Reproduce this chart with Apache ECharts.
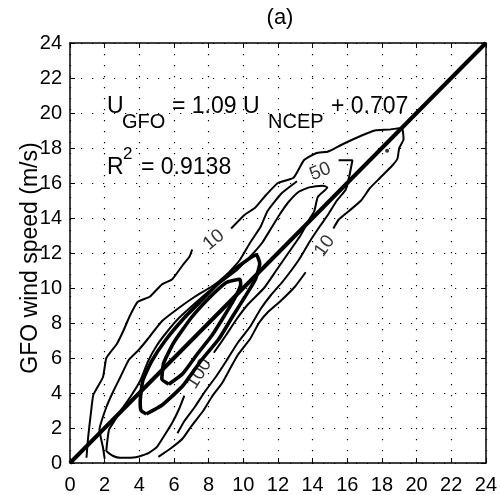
<!DOCTYPE html>
<html>
<head>
<meta charset="utf-8">
<script src="https://cdn.jsdelivr.net/npm/echarts@6/dist/echarts.min.js"></script>
<style>
html,body{margin:0;padding:0;background:#fff;}
#main{width:500px;height:495px;}
</style>
</head>
<body>
<div id="main"></div>
<script>
// contour lines, level 10 (outer)
var c10a = [[0.95,0.3],[1.05,1.5],[1.2,2.8],[1.35,3.9],[1.9,4.9],[2.1,6.0],[2.7,6.8],[3.1,7.6],[3.45,8.4],[3.9,9.2],[4.6,9.5],[5.3,10.2],[5.9,10.5],[6.5,11.3],[6.9,11.8],[7.05,12.2]];
var c10b = [[9.3,13.4],[10.1,14.2],[10.7,14.6],[11.3,15.3],[12.0,16.0],[12.9,16.3],[13.5,17.3],[14.2,17.7],[14.9,17.8],[15.7,18.2],[16.8,18.7],[17.6,19.0],[18.4,19.05],[19.15,19.15],[19.25,18.5],[19.0,18.0],[18.9,17.4],[18.6,17.0],[17.9,16.3],[17.3,15.7],[16.8,15.0],[16.1,14.4],[15.5,13.9],[15.2,13.4]];
var c10c = [[13.6,10.9],[13.0,10.1],[12.2,9.3],[11.4,8.6],[10.9,8.0],[10.4,7.1],[9.7,6.2],[9.3,5.5],[8.8,4.6],[8.2,3.8],[7.7,3.0],[7.0,2.1],[6.5,1.4],[5.9,0.9],[5.1,0.35]];
// level 50
var c50a = [[2.0,0.25],[1.9,0.9],[1.7,1.9],[2.1,3.2],[2.5,4.1],[2.9,4.9],[3.4,5.9],[4.0,6.5],[4.5,7.1],[5.3,8.1],[6.2,8.8],[7.2,9.5],[8.2,10.1],[9.0,10.7],[9.8,11.6],[10.4,12.6],[11.0,13.5],[11.4,14.4],[12.2,15.4],[13.1,16.1]];
var c50b = [[15.5,17.3],[16.3,17.3],[16.1,16.3],[15.9,15.6],[15.4,15.0],[14.9,14.2],[14.4,13.5],[13.8,12.6],[13.2,11.6],[12.3,10.4],[11.6,9.6],[11.0,8.8],[10.4,7.8],[9.7,6.9],[9.0,5.8],[8.4,4.9],[7.8,4.1],[7.2,3.2],[6.6,2.4],[6.2,1.7]];
// level 100
var c100 = [[8.3,6.3],[9.0,7.3],[9.6,8.2],[10.3,9.1],[11.2,10.0],[11.9,11.0],[12.6,12.0],[13.3,13.0],[13.8,13.9],[14.1,14.4],[14.3,15.2],[14.85,15.75],[14.6,15.85],[13.8,15.75],[13.2,15.5],[12.6,14.9],[12.1,14.2],[11.6,13.4],[11.1,12.6],[10.5,11.9],[10.0,11.4],[9.6,11.0],[8.8,10.4],[8.0,9.8],[7.3,9.2],[6.3,8.3],[5.6,7.5],[5.0,6.7],[4.5,5.8],[4.05,4.7],[3.5,3.8],[3.0,3.1],[2.5,2.3],[2.25,1.9],[2.1,0.7],[2.5,0.4],[2.9,0.3],[3.8,0.33],[4.5,0.55],[5.0,0.9],[5.4,1.5],[5.9,2.3],[6.3,3.1],[6.6,3.85]];
// thick inner levels
var thick1 = [[4.4,2.8],[4.1,3.0],[4.05,3.5],[4.2,4.7],[4.7,5.8],[5.5,7.0],[6.6,8.3],[7.7,9.4],[8.8,10.5],[9.8,11.3],[10.75,11.9],[10.95,11.4],[10.7,10.5],[10.1,9.5],[9.4,8.4],[8.6,7.1],[7.6,5.9],[6.5,4.4],[5.3,3.3],[4.4,2.8]];
var thick2 = [[5.7,4.5],[5.3,4.8],[5.4,5.7],[6.0,6.9],[7.0,8.3],[8.0,9.4],[9.0,10.3],[9.8,10.5],[9.85,10.2],[9.5,9.4],[8.9,8.4],[8.2,7.3],[7.4,6.3],[6.5,5.1],[5.7,4.5]];
var dots = [[18.3,17.85]];
// 1:1 line
var diag = [[0,0],[24,24]];
// contour labels [x, y, text, angle]
var clabels = [[8.3,12.75,'10',40],[14.7,12.4,'10',55],[14.45,16.65,'50',22],[7.45,5.1,'100',58]];

var FONT = "'Liberation Sans', Arial, sans-serif";
var chart = echarts.init(document.getElementById('main'));

function contour(d, w){
	return {
		type:'line',
		data:d,
		showSymbol:false,
		smooth:0.15,
		silent:true,
		lineStyle:{color:'#000', width:w},
		xAxisIndex:0,
		yAxisIndex:0
	};
}

function axisX(pos, labels){
	return {
		type:'value', min:0, max:24, interval:2, position:pos,
		axisLine:{show:true, onZero:false, lineStyle:{color:'#000', width:1.5}},
		axisTick:{show:true, inside:true, length:5, lineStyle:{color:'#000', width:1}},
		axisLabel:{show:labels, color:'#000', fontSize:20, fontFamily:FONT, margin:12},
		splitLine:{show:labels, lineStyle:{color:'#000', width:1.2, type:[1.2,9.8]}}
	};
}
function axisY(pos, labels){
	return {
		type:'value', min:0, max:24, interval:2, position:pos,
		axisLine:{show:true, onZero:false, lineStyle:{color:'#000', width:1.5}},
		axisTick:{show:true, inside:true, length:5, lineStyle:{color:'#000', width:1}},
		axisLabel:{show:labels, color:'#000', fontSize:20, fontFamily:FONT, margin:8},
		splitLine:{show:labels, lineStyle:{color:'#000', width:1.2, type:[1.2,9.8]}}
	};
}

function txt(s, x, y, size, extra){
	var o = {type:'text', x:x, y:y, silent:true, style:{text:s, fill:'#000', fontSize:size, fontFamily:FONT, align:'left', verticalAlign:'middle'}};
	if(extra){ for(var k in extra){ o.style[k] = extra[k]; } }
	return o;
}

var series = [
	contour(c10a,2), contour(c10b,2), contour(c10c,2),
	contour(c50a,2), contour(c50b,2),
	contour(c100,2),
	contour(thick1,3.6), contour(thick2,3.6),
	contour(diag,4),
	{
		type:'scatter', data:dots, symbolSize:4, silent:true,
		itemStyle:{color:'#000'}
	},
	{
		type:'scatter', silent:true, symbolSize:0,
		data:clabels.map(function(c){
			return {value:[c[0],c[1]], name:c[2], label:{rotate:c[3]}};
		}),
		label:{show:true, position:'inside', formatter:'{b}', color:'#000', fontSize:19, fontFamily:FONT}
	}
];

var option = {
	animation:false,
	backgroundColor:'#fff',
	grid:{left:70, top:43, width:420, height:420},
	xAxis:[axisX('bottom',true), axisX('top',false)],
	yAxis:[axisY('left',true), axisY('right',false)],
	series:series,
	graphic:[
		txt('(a)', 280, 18, 22, {align:'center'}),
		{type:'text', x:31, y:258, rotation:Math.PI/2, silent:true,
			style:{text:'GFO wind speed (m/s)', fill:'#000', fontSize:23, fontFamily:FONT, align:'center', verticalAlign:'middle'}},
		txt('U', 107, 107, 23),
		txt('GFO', 122, 122, 20),
		txt('= 1.09 U', 172, 107, 23),
		txt('NCEP', 268, 122, 20),
		txt('+ 0.707', 331, 107, 23),
		txt('R', 107, 168, 23),
		txt('2', 123, 154, 17),
		txt('= 0.9138', 141, 168, 23)
	]
};
chart.setOption(option);
</script>
</body>
</html>
